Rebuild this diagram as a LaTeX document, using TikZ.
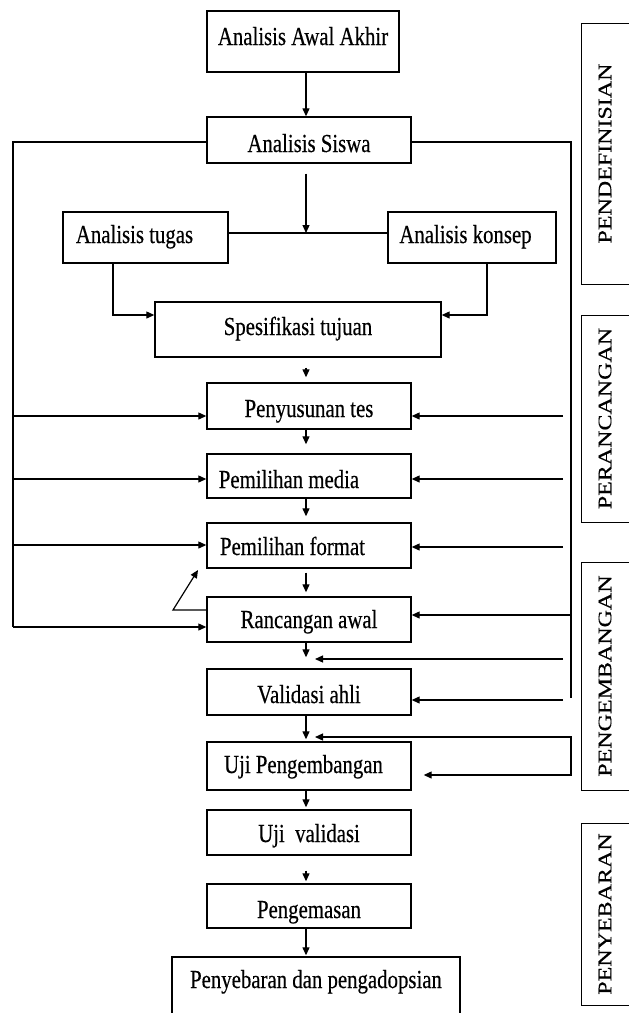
\documentclass[tikz,border=0pt]{standalone}
\usepackage{fontspec}
\usepackage{graphicx}
\setmainfont[FakeStretch=0.8,FakeBold=0.4]{Liberation Serif}
\newfontfamily\phasefont[FakeBold=0.3]{Liberation Serif}
\usetikzlibrary{arrows.meta}
\begin{document}
\begin{tikzpicture}[x=1pt,y=-1pt,
  font=\fontsize{26}{30}\selectfont,
  box/.style={draw, line width=1.4pt, inner sep=0pt, text depth=6pt},
  ln/.style={line width=1.2pt},
  arr/.style={ln, -{Triangle[length=8pt,width=7pt]}},
  phasebox/.style={draw, line width=1.4pt, minimum width=80pt, anchor=north west},
  phasetext/.style={rotate=90, inner sep=0pt, font=\phasefont\fontsize{24}{24}\selectfont}
]
\useasboundingbox (0,0) rectangle (629,1013);

% main boxes
\node[box, minimum width=192pt, minimum height=61pt, text height=13pt] (akhir) at (303,41.5) {Analisis Awal Akhir};
\node[box, minimum width=204pt, minimum height=46pt, text height=30pt] (siswa) at (309,140) {Analisis Siswa};
\node[box, minimum width=165pt, minimum height=51pt, text height=17pt] (tugas) at (145.5,237.5) {Analisis tugas\hspace*{22pt}};
\node[box, minimum width=168pt, minimum height=51pt, text height=17pt] (konsep) at (472,237.5) {Analisis konsep\hspace*{13pt}};
\node[box, minimum width=286pt, minimum height=55pt, text height=17pt] (spes) at (298,329.5) {Spesifikasi tujuan};
\node[box, minimum width=204pt, minimum height=46pt, text height=28pt] (peny) at (309,406) {Penyusunan tes};
\node[box, minimum width=204pt, minimum height=44pt, text height=30pt] (media) at (309,476) {Pemilihan media\hspace*{40pt}};
\node[box, minimum width=204pt, minimum height=45pt, text height=25pt] (format) at (309,545.5) {Pemilihan format\hspace*{33pt}};
\node[box, minimum width=204pt, minimum height=45pt, text height=23pt] (ranc) at (309,619.5) {Rancangan awal};
\node[box, minimum width=204pt, minimum height=46pt, text height=28pt] (valid) at (309,692) {Validasi ahli};
\node[box, minimum width=204pt, minimum height=48pt, text height=20pt] (ujip) at (309,766) {Uji Pengembangan\hspace*{11pt}};
\node[box, minimum width=204pt, minimum height=45pt, text height=25pt] (ujiv) at (309,832.5) {Uji\ \ validasi};
\node[box, minimum width=204pt, minimum height=44pt, text height=30pt] (kemas) at (309,906) {Pengemasan};
\node[box, minimum width=288pt, minimum height=80pt, text height=0pt, text depth=18pt] (sebar) at (316,997) {Penyebaran dan pengadopsian};

% phase boxes
\node[phasebox, minimum height=261pt] (p1) at (581,23) {};
\node[phasebox, minimum height=207pt] (p2) at (581,315) {};
\node[phasebox, minimum height=228pt] (p3) at (581,562) {};
\node[phasebox, minimum height=182pt] (p4) at (581,823) {};
\node[phasetext] (t1) at (605,153.5) {\scalebox{1}[0.8]{PENDEFINISIAN}};
\node[phasetext] (t2) at (605,418.5) {\scalebox{1}[0.8]{PERANCANGAN}};
\node[phasetext] (t3) at (605,676) {\scalebox{1}[0.8]{PENGEMBANGAN}};
\node[phasetext] (t4) at (605,914) {\scalebox{1}[0.8]{PENYEBARAN}};

% helper coordinates
\coordinate (ax) at (306,0);
\coordinate (jn) at (306,233);
\coordinate (tx) at (113,0);
\coordinate (kx) at (487,0);
\coordinate (ty) at (0,315);
\coordinate (L0) at (13,142);
\coordinate (L1) at (13,416);
\coordinate (L2) at (13,479);
\coordinate (L3) at (13,545);
\coordinate (L4) at (13,627);
\coordinate (R0) at (571,142);
\coordinate (R3) at (571,615);
\coordinate (R4) at (571,698);
\coordinate (E1) at (563,416);
\coordinate (E2) at (563,479);
\coordinate (E3) at (563,547);
\coordinate (E5) at (563,659);
\coordinate (T5) at (315,659);
\coordinate (E6) at (563,700);
\coordinate (T7) at (315,737);
\coordinate (B1) at (571,737);
\coordinate (B2) at (571,775);
\coordinate (F0) at (0,610);
\coordinate (F1) at (173,610);
\coordinate (F2) at (198,570);

% main vertical flow
\draw[arr] (akhir.south -| ax) -- (siswa.north -| ax);
\draw[arr, shorten <=10pt] (siswa.south -| ax) -- (jn);
\draw[ln] (tugas.east |- jn) -- (konsep.west |- jn);
\draw[arr] (tugas.south -| tx) |- (spes.west |- ty);
\draw[arr] (konsep.south -| kx) |- (spes.east |- ty);
\draw[arr, shorten <=10pt, shorten >=5pt] (spes.south -| ax) -- (peny.north -| ax);
\draw[arr, shorten >=9pt] (peny.south -| ax) -- (media.north -| ax);
\draw[arr, shorten >=6pt] (media.south -| ax) -- (format.north -| ax);
\draw[arr, shorten <=4pt, shorten >=4pt] (format.south -| ax) -- (ranc.north -| ax);
\draw[arr, shorten >=11pt] (ranc.south -| ax) -- (valid.north -| ax);
\draw[arr, shorten >=2pt] (valid.south -| ax) -- (ujip.north -| ax);
\draw[arr, shorten >=2pt] (ujip.south -| ax) -- (ujiv.north -| ax);
\draw[arr, shorten <=15pt, shorten >=2pt] (ujiv.south -| ax) -- (kemas.north -| ax);
\draw[arr, shorten >=1pt] (kemas.south -| ax) -- (sebar.north -| ax);

% left rail
\draw[ln] (siswa.west |- L0) -- (L0) -- (L4);
\draw[arr] (L1) -- (peny.west |- L1);
\draw[arr] (L2) -- (media.west |- L2);
\draw[arr] (L3) -- (format.west |- L3);
\draw[arr] (L4) -- (ranc.west |- L4);

% right rail
\draw[ln] (siswa.east |- R0) -- (R0) -- (R4);
\draw[arr] (E1) -- (peny.east |- E1);
\draw[arr] (E2) -- (media.east |- E2);
\draw[arr] (E3) -- (format.east |- E3);
\draw[arr] (R3) -- (ranc.east |- R3);
\draw[arr] (E5) -- (T5);
\draw[arr] (E6) -- (valid.east |- E6);
\draw[ln, {Triangle[length=8pt,width=7pt]}-{Triangle[length=8pt,width=7pt]}, shorten >=12pt] (T7) -- (B1) -- (B2) -- (ujip.east |- B2);

% feedback
\draw[arr] (ranc.west |- F0) -- (F1) -- (F2);
\end{tikzpicture}
\end{document}
